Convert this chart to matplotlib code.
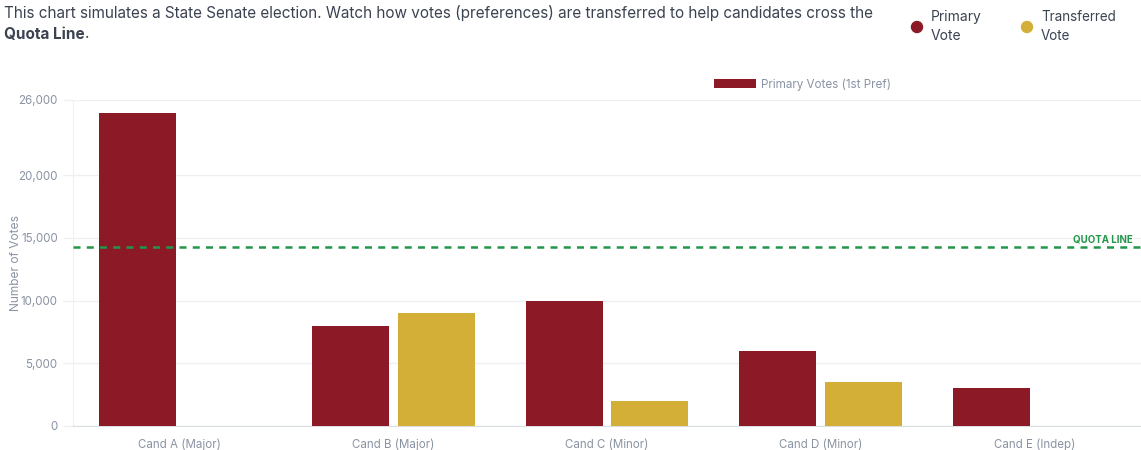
import matplotlib
matplotlib.use("Agg")
import matplotlib.pyplot as plt
from matplotlib.ticker import FixedLocator, FuncFormatter
from matplotlib.patches import Ellipse
import numpy as np

categories = ["Cand A (Major)", "Cand B (Major)", "Cand C (Minor)", "Cand D (Minor)", "Cand E (Indep)"]
primary_votes = [25000, 8000, 10000, 6000, 3000]
transferred_votes = [0, 9000, 2000, 3500, 0]
quota = 14286
y_ticks = [0, 5000, 10000, 15000, 20000, 26000]

RED = "#8B1A26"
GOLD = "#D4AF37"
GREEN = "#23964A"
GRAY = "#8A93A3"
TEXT = "#3B4351"
GRID = "#EEF0F3"

plt.rcParams['font.family'] = ['Inter', 'DejaVu Sans']

fig = plt.figure(figsize=(11.41, 4.5), dpi=100)
ax = fig.add_axes([73/1141, 1-426/450, 1-73/1141, (426-100)/450])

x = np.arange(len(categories))
w = 0.36
ax.bar(x - 0.2, primary_votes, width=w, color=RED, label="Primary Votes (1st Pref)", zorder=3)
ax.bar(x + 0.2, transferred_votes, width=w, color=GOLD, zorder=3)

ax.set_xlim(-0.5, len(categories) - 0.5)
ax.set_ylim(0, 26000)
ax.yaxis.set_major_locator(FixedLocator(y_ticks))
ax.yaxis.set_major_formatter(FuncFormatter(lambda v, p: f"{int(v):,}"))
ax.set_xticks(x)
ax.set_xticklabels(categories)
ax.tick_params(axis='both', colors=GRAY, labelsize=8.3)
ax.tick_params(axis='y', length=7, width=1, color=GRID, pad=4)
ax.tick_params(axis='x', length=0, pad=9)
ax.grid(axis='y', color=GRID, linewidth=1, zorder=0)
for s in ['top', 'right']:
    ax.spines[s].set_visible(False)
ax.spines['left'].set_color(GRID)
ax.spines['bottom'].set_color("#DADDE2")
ax.set_ylabel("Number of Votes", color=GRAY, fontsize=8.6)
ax.yaxis.set_label_coords(-51/1068, 0.5)

ax.axhline(quota, color=GREEN, linestyle=(0, (2.8, 2.5)), linewidth=1.8, zorder=4)
ax.text(0.992, quota + 200, "QUOTA LINE", transform=ax.get_yaxis_transform(),
        ha='right', va='bottom', color=GREEN, fontsize=7, fontweight='bold', zorder=5)

leg = ax.legend(loc='lower center', bbox_to_anchor=(0.683, 1.0), frameon=False,
                fontsize=8.4, handlelength=3.6, handleheight=0.9, handletextpad=0.5,
                borderaxespad=0.4)
for t in leg.get_texts():
    t.set_color(GRAY)

fs = 11.0
fig.text(4/1141, 1-13/450, "This chart simulates a State Senate election. Watch how votes (preferences) are transferred to help candidates cross the",
         fontsize=fs, color=TEXT, va='center', ha='left')
bold = fig.text(4/1141, 1-34/450, "Quota Line", fontsize=fs, color=TEXT, va='center', ha='left', fontweight='bold')
fig.canvas.draw()
bb = bold.get_window_extent()
fig.text(bb.x1 / fig.bbox.width, 1-34/450, ".", fontsize=fs, color=TEXT, va='center', ha='left')

# custom header legend
fig.patches.append(Ellipse((917/1141, 1-27/450), 11/1141, 11/450, transform=fig.transFigure,
                           color=RED, figure=fig))
fig.text(931/1141, 1-17/450, "Primary", fontsize=10, color=TEXT, va='center')
fig.text(931/1141, 1-36/450, "Vote", fontsize=10, color=TEXT, va='center')
fig.patches.append(Ellipse((1027/1141, 1-27/450), 11/1141, 11/450, transform=fig.transFigure,
                           color=GOLD, figure=fig))
fig.text(1041/1141, 1-17/450, "Transferred", fontsize=9.7, color=TEXT, va='center')
fig.text(1041/1141, 1-36/450, "Vote", fontsize=9.7, color=TEXT, va='center')

fig.savefig("out.png", dpi=100)
